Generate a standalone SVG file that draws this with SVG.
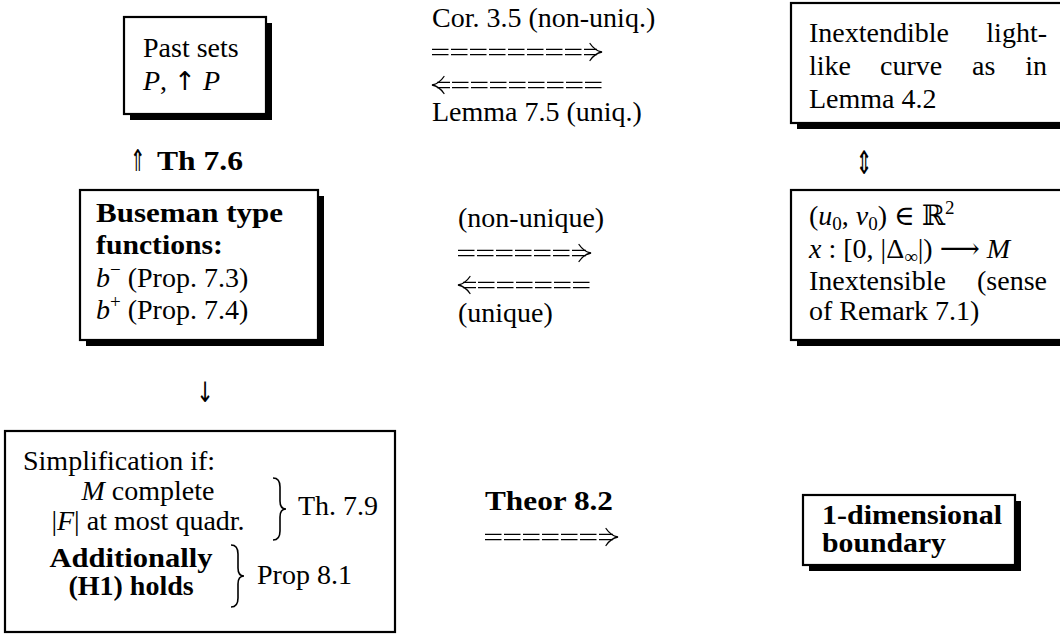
<svg xmlns="http://www.w3.org/2000/svg" width="1060" height="635" viewBox="0 0 1060 635">
<style>
.t{font-family:"Liberation Serif","DejaVu Serif",serif;font-size:28px;fill:#000}
.b{font-weight:bold}
.i{font-style:italic}
.box{fill:#fff;stroke:#000;stroke-width:2.2}
.sh{fill:#000}
.rail{stroke:#000;stroke-width:1.2;fill:none;stroke-dasharray:16.5 2.5}
.shaft{stroke:#000;stroke-width:1.2;fill:none}
.head{stroke:#000;stroke-width:1.3;fill:none;stroke-linecap:round}
.brace{stroke:#000;stroke-width:1.6;fill:none}
.sym{font-family:"DejaVu Sans","DejaVu Serif",sans-serif;fill:#000}
</style>
<rect width="1060" height="635" fill="#fff"/>

<g id="node-past-sets">
<rect class="sh" x="130" y="23" width="142" height="97"/>
<rect class="box" x="124" y="17" width="142" height="97"/>
<text class="t" x="143" y="57">Past sets</text>
<text class="t" x="143" y="90"><tspan class="i">P</tspan>,  <tspan class="sym" font-size="26">↑</tspan> <tspan class="i">P</tspan></text>
</g>

<g id="node-lightlike">
<rect class="sh" x="797" y="9" width="280" height="120"/>
<rect class="box" x="791" y="3" width="280" height="120"/>
<text class="t" x="809" y="42">Inextendible</text>
<text class="t" x="1047" y="42" text-anchor="end">light-</text>
<text class="t" x="809" y="75">like</text>
<text class="t" x="880" y="75">curve</text>
<text class="t" x="972" y="75">as</text>
<text class="t" x="1047" y="75" text-anchor="end">in</text>
<text class="t" x="809" y="108">Lemma 4.2</text>
</g>

<g id="node-buseman">
<rect class="sh" x="86" y="196" width="238" height="150"/>
<rect class="box" x="80" y="190" width="238" height="150"/>
<text class="t b" x="96" y="222" textLength="187" lengthAdjust="spacingAndGlyphs">Buseman type</text>
<text class="t b" x="96" y="254" textLength="127" lengthAdjust="spacingAndGlyphs">functions:</text>
<text class="t" x="96" y="287"><tspan class="i">b</tspan><tspan dy="-11" font-size="19">−</tspan><tspan dy="11"> (Prop. 7.3)</tspan></text>
<text class="t" x="96" y="319"><tspan class="i">b</tspan><tspan dy="-11" font-size="19">+</tspan><tspan dy="11"> (Prop. 7.4)</tspan></text>
</g>

<g id="node-curve-data">
<rect class="sh" x="797" y="196" width="280" height="150"/>
<rect class="box" x="791" y="190" width="280" height="150"/>
<text class="t" x="809" y="225">(<tspan class="i">u</tspan><tspan dy="5" font-size="19">0</tspan><tspan dy="-5">, </tspan><tspan class="i">v</tspan><tspan dy="5" font-size="19">0</tspan><tspan dy="-5">) ∈ ℝ</tspan><tspan dy="-11" font-size="19">2</tspan></text>
<text class="t" x="809" y="258"><tspan class="i">x</tspan> : [0, |Δ<tspan dy="5" font-size="19">∞</tspan><tspan dy="-5">|) ⟶ </tspan><tspan class="i">M</tspan></text>
<text class="t" x="809" y="290">Inextensible</text>
<text class="t" x="1047" y="290" text-anchor="end">(sense</text>
<text class="t" x="809" y="320">of Remark 7.1)</text>
</g>

<g id="node-simplification">
<rect class="box" x="5" y="431" width="390" height="201"/>
<text class="t" x="23" y="470">Simplification if:</text>
<text class="t" x="148" y="500" text-anchor="middle"><tspan class="i">M</tspan> complete</text>
<text class="t" x="148" y="530" text-anchor="middle">|<tspan class="i">F</tspan>| at most quadr.</text>
<path class="brace" d="M273,478 Q280,478 280,487 L280,501 Q280,509 286,509 Q280,509 280,517 L280,531 Q280,540 273,540"/>
<text class="t" x="298" y="515">Th. 7.9</text>
<text class="t b" x="131" y="567" text-anchor="middle" textLength="163" lengthAdjust="spacingAndGlyphs">Additionally</text>
<text class="t b" x="131" y="595" text-anchor="middle">(H1) holds</text>
<path class="brace" d="M231,545 Q238,545 238,554 L238,568 Q238,576 244,576 Q238,576 238,584 L238,598 Q238,607 231,607"/>
<text class="t" x="257" y="584">Prop 8.1</text>
</g>

<g id="node-boundary">
<rect class="sh" x="809" y="501" width="212" height="70"/>
<rect class="box" x="803" y="495" width="212" height="70"/>
<text class="t b" x="822" y="524" textLength="180" lengthAdjust="spacingAndGlyphs">1-dimensional</text>
<text class="t b" x="822" y="552" textLength="124" lengthAdjust="spacingAndGlyphs">boundary</text>
</g>

<g id="connectors">
<g id="edge-top">
<text class="t" x="432" y="27">Cor. 3.5 (non-uniq.)</text>
<path class="rail" d="M432,49.4 H583 M432,54.6 H583"/>
<path class="shaft" d="M584,49.4 H597 M584,54.6 H597"/>
<path class="head" d="M590,43.5 C593,48 597,51 602,52 C597,53 593,56 590,60.5"/>
<path class="shaft" d="M437,82.4 H450 M437,87.6 H450"/>
<path class="rail" d="M452,82.4 H603 M452,87.6 H603"/>
<path class="head" d="M444,76.5 C441,81 437,84 432,85 C437,86 441,89 444,93.5"/>
<text class="t" x="432" y="121">Lemma 7.5 (uniq.)</text>
</g>
<g id="edge-middle">
<text class="t" x="458" y="227">(non-unique)</text>
<path class="rail" d="M458,250.4 H571 M458,255.6 H571"/>
<path class="shaft" d="M572,250.4 H586 M572,255.6 H586"/>
<path class="head" d="M579,244.5 C582,249 586,252 591,253 C586,254 582,257 579,261.5"/>
<path class="shaft" d="M463,282.4 H476 M463,287.6 H476"/>
<path class="rail" d="M478,282.4 H592 M478,287.6 H592"/>
<path class="head" d="M470,276.5 C467,281 463,284 458,285 C463,286 467,289 470,293.5"/>
<text class="t" x="458" y="322">(unique)</text>
</g>
<g id="edge-bottom">
<text class="t b" x="485" y="510" textLength="128" lengthAdjust="spacingAndGlyphs">Theor 8.2</text>
<path class="rail" d="M485,534.4 H598 M485,539.6 H598"/>
<path class="shaft" d="M599,534.4 H613 M599,539.6 H613"/>
<path class="head" d="M606,528.5 C609,533 613,536 618,537 C613,538 609,541 606,545.5"/>
</g>
<g id="edge-th76">
<text class="sym" font-size="30" transform="translate(130,171) scale(0.62,1)">⇑</text>
<text class="t b" x="157" y="170" textLength="86" lengthAdjust="spacingAndGlyphs">Th 7.6</text>
</g>
<text id="edge-equiv" class="sym" font-size="32" text-anchor="middle" transform="translate(864,174) scale(0.62,1)">⇕</text>
<text id="edge-down" class="sym" font-size="28" text-anchor="middle" transform="translate(205,402) scale(0.75,1)">↓</text>
</g>
</svg>
